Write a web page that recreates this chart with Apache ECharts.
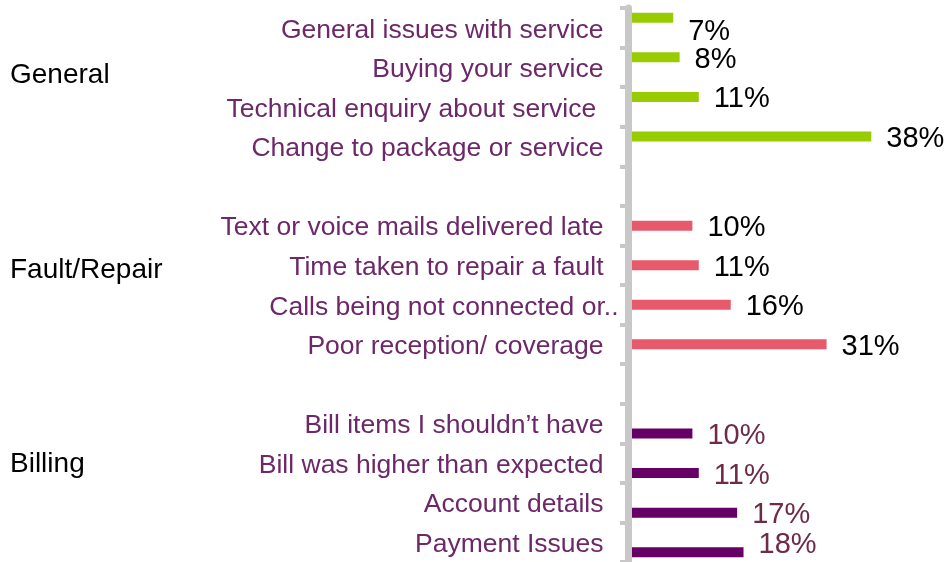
<!DOCTYPE html>
<html>
<head>
<meta charset="utf-8">
<script src="https://cdn.jsdelivr.net/npm/echarts@6/dist/echarts.min.js"></script>
<style>
  html, body { margin: 0; padding: 0; background: #ffffff; }
  #chart { width: 948px; height: 562px; }
</style>
</head>
<body>
<div id="chart"></div>
<script>
// Reasons for contact, grouped by topic (empty rows separate the groups)
const categories = [
  'General issues with service',
  'Buying your service',
  'Technical enquiry about service ',
  'Change to package or service',
  '',
  'Text or voice mails delivered late',
  'Time taken to repair a fault',
  'Calls being not connected or..',
  'Poor reception/ coverage',
  '',
  'Bill items I shouldn\u2019t have',
  'Bill was higher than expected',
  'Account details',
  'Payment Issues'
];

const groupNames = ['General', 'Fault/Repair', 'Billing'];

// Percent of respondents per reason; null where a row belongs to another group
const generalValues = [7, 8, 11, 38, null, null, null, null, null, null, null, null, null, null];
const faultValues   = [null, null, null, null, null, 10, 11, 16, 31, null, null, null, null, null];
const billingValues = [null, null, null, null, null, null, null, null, null, null, 10, 11, 17, 18];

const FONT = '"Liberation Sans", Arial, Helvetica, sans-serif';
const LABEL_PURPLE = '#6c2869';
const TRUNCATED = 'Calls being not connected or..';

// value labels sit slightly below the bar centre; two of them sit in the row centre
const BASE_SHIFT = 2.5;
const labelShift = { 0: [0, 12 + BASE_SHIFT], 13: [0, -10 + BASE_SHIFT] };

function buildData(values) {
  return values.map(function (v, i) {
    if (v === null) return null;
    const item = { value: v };
    if (labelShift[i]) item.label = { offset: labelShift[i] };
    return item;
  });
}

function barSeries(name, values, color, labelColor) {
  return {
    name: name,
    type: 'bar',
    data: buildData(values),
    barWidth: 10,
    barGap: '0%',
    itemStyle: { color: color },
    label: {
      show: true,
      position: 'right',
      distance: 15,
      offset: [0, BASE_SHIFT],
      formatter: '{c}%',
      color: labelColor,
      fontFamily: FONT,
      fontSize: 29
    },
    emphasis: { disabled: true },
    silent: true
  };
}

const chart = echarts.init(document.getElementById('chart'), null, { renderer: 'canvas' });

chart.setOption({
  animation: false,
  backgroundColor: '#ffffff',
  grid: { left: 628.5, right: -1, top: 8, bottom: 0, containLabel: false },
  xAxis: {
    type: 'value',
    min: 0,
    max: 50,
    show: false
  },
  yAxis: {
    type: 'category',
    data: categories,
    inverse: true,
    z: 10,
    axisLine: { show: true, lineStyle: { color: '#c8c8c8', width: 7 } },
    axisTick: { show: true, length: 8.5, lineStyle: { color: '#c8c8c8', width: 4 } },
    axisLabel: {
      margin: 10,
      interval: 0,
      fontFamily: FONT,
      fontSize: 26.5,
      color: LABEL_PURPLE,
      formatter: function (v) {
        if (!v) return '';
        return v === TRUNCATED ? '{t|' + v + '}' : '{n|' + v + '}';
      },
      rich: {
        n: { fontFamily: FONT, fontSize: 26.5, color: LABEL_PURPLE, padding: [5, 15, 0, 0] },
        t: { fontFamily: FONT, fontSize: 26.5, color: LABEL_PURPLE, padding: [5, 0, 0, 0] }
      }
    },
    splitLine: { show: false }
  },
  graphic: [
    { type: 'text', left: 10, top: 61, style: { text: groupNames[0], font: '28px ' + FONT, fill: '#000000' } },
    { type: 'text', left: 10, top: 256, style: { text: groupNames[1], font: '28px ' + FONT, fill: '#000000' } },
    { type: 'text', left: 10, top: 450.5, style: { text: groupNames[2], font: '28px ' + FONT, fill: '#000000' } }
  ],
  series: [
    barSeries(groupNames[0], generalValues, '#99cc00', '#000000'),
    barSeries(groupNames[1], faultValues, '#e75a6b', '#000000'),
    barSeries(groupNames[2], billingValues, '#660066', '#6e2b47')
  ]
});
</script>
</body>
</html>
